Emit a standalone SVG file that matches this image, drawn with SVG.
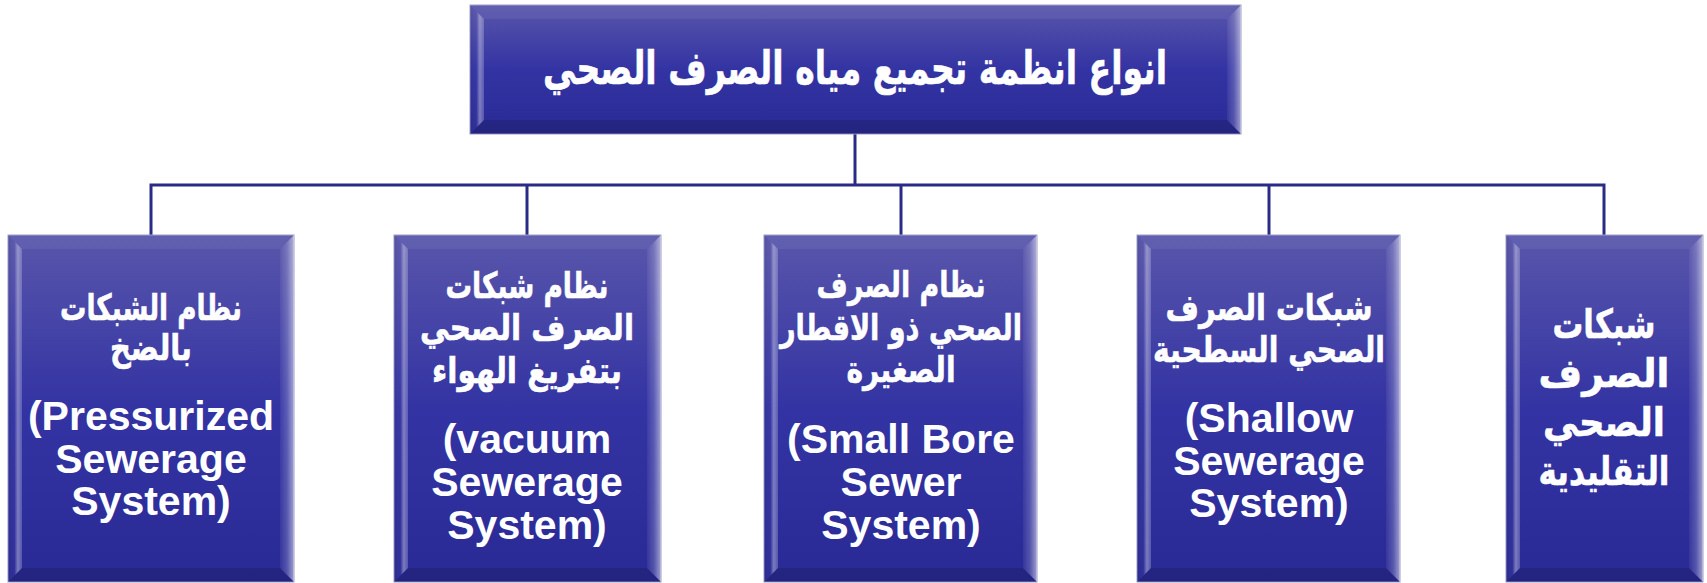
<svg xmlns="http://www.w3.org/2000/svg" width="1707" height="583" viewBox="0 0 1707 583">
<defs>
<linearGradient id="gMain" x1="0" y1="0" x2="0" y2="1">
<stop offset="0" stop-color="#5956AB"/>
<stop offset="0.5" stop-color="#3333A3"/>
<stop offset="1" stop-color="#2A2A96"/>
</linearGradient>
<linearGradient id="gLeft" x1="0" y1="0" x2="1" y2="0">
<stop offset="0" stop-color="#000" stop-opacity="0.08"/>
<stop offset="0.45" stop-color="#fff" stop-opacity="0.02"/>
<stop offset="0.7" stop-color="#fff" stop-opacity="0.38"/>
<stop offset="1" stop-color="#fff" stop-opacity="0.2"/>
</linearGradient>
<linearGradient id="gRight" x1="0" y1="0" x2="1" y2="0">
<stop offset="0" stop-color="#fff" stop-opacity="0.05"/>
<stop offset="0.5" stop-color="#fff" stop-opacity="0.2"/>
<stop offset="1" stop-color="#fff" stop-opacity="0.55"/>
</linearGradient>
<style>
.face{fill:url(#gMain);stroke:#9C9CC8;stroke-width:1}
.bt{fill:#fff;fill-opacity:0.06}
.bb{fill:#000;fill-opacity:0.14}
.bl{fill:url(#gLeft)}
.br{fill:url(#gRight)}
.ar{font-family:"DejaVu Sans",sans-serif;font-weight:bold;fill:#fff;stroke:#fff;stroke-width:0.6;text-anchor:middle;direction:rtl;font-size:36px}
.en{font-family:"Liberation Sans",Arial,sans-serif;font-weight:bold;fill:#fff;text-anchor:middle;font-size:41px}
.conn{fill:none;stroke:#2A2B85;stroke-width:3}
</style>
</defs>
<g id="connectors">
<path class="conn" d="M855,134 V185"/>
<path class="conn" d="M151,235 V185 H1604 V235"/>
<path class="conn" d="M527,185 V235"/>
<path class="conn" d="M901,185 V235"/>
<path class="conn" d="M1269,185 V235"/>
</g>
<g id="root">
<rect class="face" x="470" y="5" width="771" height="129"/>
<polygon class="bt" points="470,5 1241,5 1227,19 484,19"/>
<polygon class="bb" points="470,134 1241,134 1227,120 484,120"/>
<polygon class="bl" points="470,5 484,19 484,120 470,134"/>
<polygon class="br" points="1241,5 1227,19 1227,120 1241,134"/>
<text class="ar" x="855" y="84" style="font-size:46px" textLength="624" lengthAdjust="spacingAndGlyphs">انواع انظمة تجميع مياه الصرف الصحي</text>
</g>
<g id="n1">
<rect class="face" x="8" y="235" width="286" height="347"/>
<polygon class="bt" points="8,235 294,235 280,249 22,249"/>
<polygon class="bb" points="8,582 294,582 280,568 22,568"/>
<polygon class="bl" points="8,235 22,249 22,568 8,582"/>
<polygon class="br" points="294,235 280,249 280,568 294,582"/>
<text class="ar" x="151" y="320" textLength="182" lengthAdjust="spacingAndGlyphs">نظام الشبكات</text>
<text class="ar" x="151" y="360" textLength="82" lengthAdjust="spacingAndGlyphs">بالضخ</text>
<text class="en" x="151" y="430">(Pressurized</text>
<text class="en" x="151" y="473">Sewerage</text>
<text class="en" x="151" y="515">System)</text>
</g>
<g id="n2">
<rect class="face" x="394" y="235" width="267" height="347"/>
<polygon class="bt" points="394,235 661,235 647,249 408,249"/>
<polygon class="bb" points="394,582 661,582 647,568 408,568"/>
<polygon class="bl" points="394,235 408,249 408,568 394,582"/>
<polygon class="br" points="661,235 647,249 647,568 661,582"/>
<text class="ar" x="527" y="298" textLength="163" lengthAdjust="spacingAndGlyphs">نظام شبكات</text>
<text class="ar" x="527" y="340" textLength="214" lengthAdjust="spacingAndGlyphs">الصرف الصحي</text>
<text class="ar" x="527" y="383" textLength="190" lengthAdjust="spacingAndGlyphs">بتفريغ الهواء</text>
<text class="en" x="527" y="453">(vacuum</text>
<text class="en" x="527" y="496">Sewerage</text>
<text class="en" x="527" y="539">System)</text>
</g>
<g id="n3">
<rect class="face" x="764" y="235" width="273" height="347"/>
<polygon class="bt" points="764,235 1037,235 1023,249 778,249"/>
<polygon class="bb" points="764,582 1037,582 1023,568 778,568"/>
<polygon class="bl" points="764,235 778,249 778,568 764,582"/>
<polygon class="br" points="1037,235 1023,249 1023,568 1037,582"/>
<text class="ar" x="901" y="297" textLength="169" lengthAdjust="spacingAndGlyphs">نظام الصرف</text>
<text class="ar" x="901" y="340" textLength="242" lengthAdjust="spacingAndGlyphs">الصحي ذو الاقطار</text>
<text class="ar" x="901" y="382" textLength="109" lengthAdjust="spacingAndGlyphs">الصغيرة</text>
<text class="en" x="901" y="453">(Small Bore</text>
<text class="en" x="901" y="496">Sewer</text>
<text class="en" x="901" y="539">System)</text>
</g>
<g id="n4">
<rect class="face" x="1137" y="235" width="263" height="347"/>
<polygon class="bt" points="1137,235 1400,235 1386,249 1151,249"/>
<polygon class="bb" points="1137,582 1400,582 1386,568 1151,568"/>
<polygon class="bl" points="1137,235 1151,249 1151,568 1137,582"/>
<polygon class="br" points="1400,235 1386,249 1386,568 1400,582"/>
<text class="ar" x="1269" y="320" textLength="207" lengthAdjust="spacingAndGlyphs">شبكات الصرف</text>
<text class="ar" x="1269" y="362" textLength="232" lengthAdjust="spacingAndGlyphs">الصحي السطحية</text>
<text class="en" x="1269" y="432">(Shallow</text>
<text class="en" x="1269" y="475">Sewerage</text>
<text class="en" x="1269" y="517">System)</text>
</g>
<g id="n5">
<rect class="face" x="1506" y="235" width="197" height="347"/>
<polygon class="bt" points="1506,235 1703,235 1689,249 1520,249"/>
<polygon class="bb" points="1506,582 1703,582 1689,568 1520,568"/>
<polygon class="bl" points="1506,235 1520,249 1520,568 1506,582"/>
<polygon class="br" points="1703,235 1689,249 1689,568 1703,582"/>
<text class="ar" x="1604" y="338" style="font-size:40px" textLength="103" lengthAdjust="spacingAndGlyphs">شبكات</text>
<text class="ar" x="1604" y="387" style="font-size:40px" textLength="131" lengthAdjust="spacingAndGlyphs">الصرف</text>
<text class="ar" x="1604" y="436" style="font-size:40px" textLength="122" lengthAdjust="spacingAndGlyphs">الصحي</text>
<text class="ar" x="1604" y="485" style="font-size:40px" textLength="131" lengthAdjust="spacingAndGlyphs">التقليدية</text>
</g>
</svg>
